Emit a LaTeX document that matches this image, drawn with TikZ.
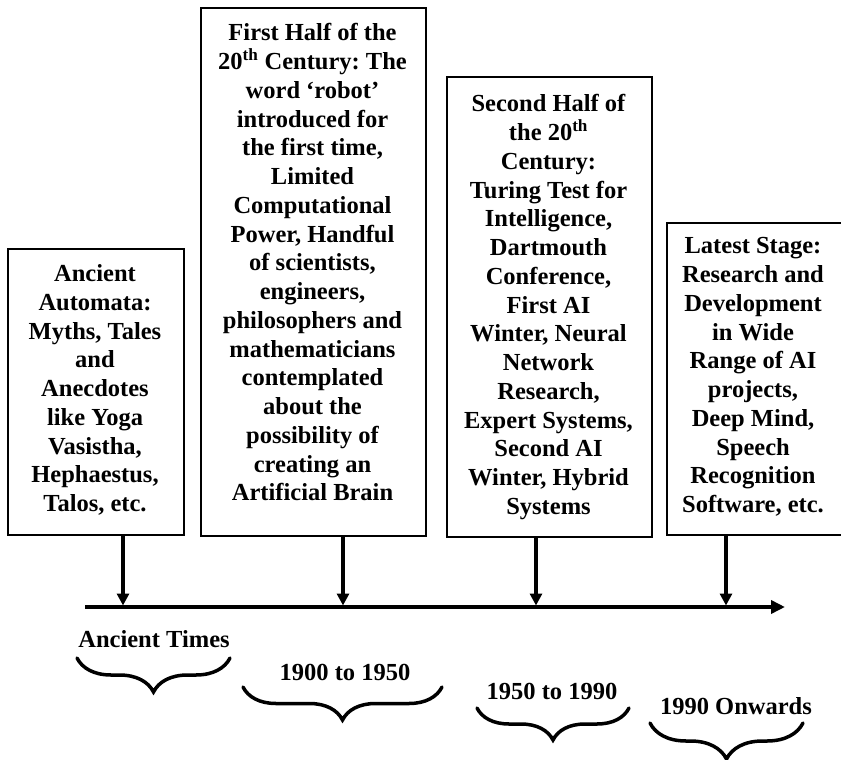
\documentclass[tikz,border=0pt]{standalone}
\usepackage{fontspec}
\setmainfont{Liberation Serif}
\usetikzlibrary{arrows.meta,decorations.pathreplacing}
\frenchspacing
\begin{document}
\begin{tikzpicture}[x=1pt,y=-1pt,
  frame/.style={draw, line width=2.2pt, anchor=north west, inner sep=0pt},
  boxtext/.style={anchor=north, align=center, inner sep=0pt,
    font=\bfseries\fontsize{24.5}{28.75}\selectfont},
  periodtext/.style={anchor=base, inner sep=0pt,
    font=\bfseries\fontsize{24.5}{28}\selectfont},
  drop/.style={line width=3.2pt, shorten >=1.5pt,
    -{Triangle[length=12pt,width=12pt]}},
  axis/.style={line width=4pt, -{Triangle[length=14pt,width=13pt]}},
  span/.style={line width=3.5pt, line cap=round, decorate,
    decoration={brace, mirror, amplitude=#1}},
]
\useasboundingbox (0,0) rectangle (841,760);

% stage boxes
\node[frame, minimum width=176pt, minimum height=286pt] (b1) at (7,248) {};
\node[frame, minimum width=225pt, minimum height=528pt] (b2) at (200,7) {};
\node[frame, minimum width=205pt, minimum height=460pt] (b3) at (446,76) {};
\node[frame, minimum width=177pt, minimum height=312pt] (b4) at (666,222) {};

% stage descriptions
\node[boxtext] (t1) at (95,264.5) {Ancient\\Automata:\\Myths, Tales\\and\\Anecdotes\\like Yoga\\Vasistha,\\Hephaestus,\\Talos, etc.};
\node[boxtext] (t2) at (312.5,23.5) {First Half of the\\20\textsuperscript{th} Century: The\\word ‘robot’\\introduced for\\the first time,\\Limited\\Computational\\Power, Handful\\of scientists,\\engineers,\\philosophers and\\mathematicians\\contemplated\\about the\\possibility of\\creating an\\Artificial Brain};
\node[boxtext] (t3) at (548.5,94.5) {Second Half of\\the 20\textsuperscript{th}\\Century:\\Turing Test for\\Intelligence,\\Dartmouth\\Conference,\\First AI\\Winter, Neural\\Network\\Research,\\Expert Systems,\\Second AI\\Winter, Hybrid\\Systems};
\node[boxtext] (t4) at (753,237.5) {Latest Stage:\\Research and\\Development\\in Wide\\Range of AI\\projects,\\Deep Mind,\\Speech\\Recognition\\Software, etc.};

% time axis
\coordinate (tl0) at (85,607);
\coordinate (tl1) at (785,607);
\draw[axis] (tl0) -- (tl1);

% points where each stage meets the axis
\coordinate (m1) at (123,607);
\coordinate (m2) at (343,607);
\coordinate (m3) at (536,607);
\coordinate (m4) at (726,607);
\draw[drop] (b1.south -| m1) -- (m1);
\draw[drop] (b2.south -| m2) -- (m2);
\draw[drop] (b3.south -| m3) -- (m3);
\draw[drop] (b4.south -| m4) -- (m4);

% period labels
\node[periodtext] (p1) at (154,647) {Ancient Times};
\node[periodtext] (p2) at (345,680) {1900 to 1950};
\node[periodtext] (p3) at (552,699) {1950 to 1990};
\node[periodtext] (p4) at (736,714) {1990 Onwards};

% braces under the labels
\coordinate (s1a) at (77,658);  \coordinate (s1b) at (230,658);
\coordinate (s2a) at (243,687); \coordinate (s2b) at (442,687);
\coordinate (s3a) at (477,708); \coordinate (s3b) at (629,708);
\coordinate (s4a) at (650,723); \coordinate (s4b) at (803,723);
\draw[span=34pt] (s1a) -- (s1b);
\draw[span=33pt] (s2a) -- (s2b);
\draw[span=32pt] (s3a) -- (s3b);
\draw[span=36pt] (s4a) -- (s4b);
\end{tikzpicture}
\end{document}
